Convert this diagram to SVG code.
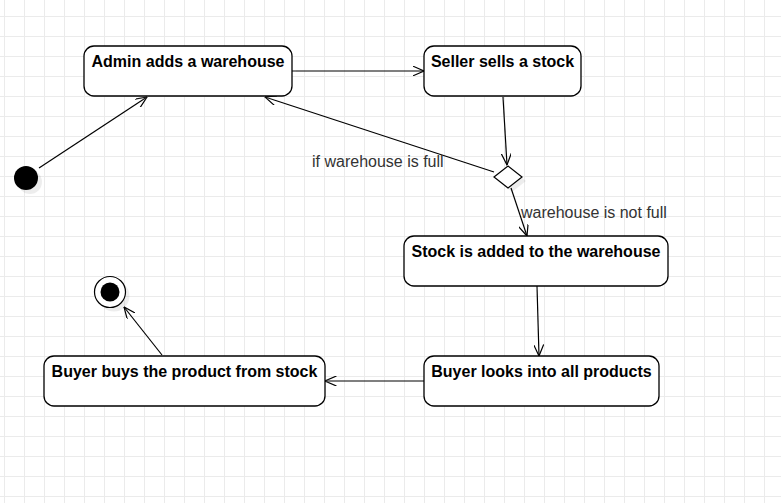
<svg xmlns="http://www.w3.org/2000/svg" width="781" height="503" viewBox="0 0 781 503">
  <style>
    .node rect { fill: #ffffff; stroke: #000000; stroke-width: 1.3; }
    .shadow { fill: #000000; opacity: 0.07; }
    .label { font-family: "Liberation Sans", Arial, sans-serif; font-size: 16px; font-weight: bold; fill: #000000; text-anchor: middle; }
    .elabel { font-family: "Liberation Sans", Arial, sans-serif; font-size: 16px; fill: #333333; }
    .edge { fill: none; stroke: #000000; stroke-width: 1.2; marker-end: url(#open); }
  </style>
  <defs>
    <pattern id="grid" x="4" y="16" width="20" height="20" patternUnits="userSpaceOnUse">
      <path d="M0.5,0 V20 M0,0.5 H20" fill="none" stroke="#ebebeb" stroke-width="1"/>
    </pattern>
    <marker id="open" viewBox="0 0 12 10" refX="11.5" refY="5" markerWidth="12" markerHeight="10" markerUnits="userSpaceOnUse" orient="auto">
      <path d="M0,0 L11.5,5 L0,10" fill="none" stroke="#000000" stroke-width="1.2"/>
    </marker>
  </defs>
  <rect width="781" height="503" fill="#ffffff"/>
  <rect width="781" height="503" fill="url(#grid)"/>

  <g id="connectors">
    <path class="edge" d="M39,168 L147,97"/>
    <path class="edge" d="M292,71 L424,71"/>
    <path class="edge" d="M503,97 L507,165"/>
    <path class="edge" d="M494,172 L265,97"/>
    <path class="edge" d="M511,188 L527,236"/>
    <path class="edge" d="M537,286 L539,356"/>
    <path class="edge" d="M424,381 L325,381"/>
    <path class="edge" d="M162,355 L124,307"/>
    <text class="elabel" x="312" y="167">if warehouse is full</text>
    <text class="elabel" x="521" y="218">warehouse is not full</text>
  </g>

  <g id="start">
    <circle cx="30" cy="182" r="12" class="shadow"/>
    <circle cx="26" cy="178" r="12" fill="#000000"/>
  </g>

  <g id="end">
    <circle cx="114" cy="296" r="15.5" class="shadow"/>
    <circle cx="110" cy="292" r="15.5" fill="#ffffff" stroke="#000000" stroke-width="1.2"/>
    <circle cx="110" cy="292" r="9.5" fill="#000000"/>
  </g>

  <g id="admin" class="node">
    <rect x="88" y="50" width="208" height="50" rx="10" class="shadow" style="stroke:none"/>
    <rect x="84" y="46" width="208" height="50" rx="10"/>
    <text class="label" x="188" y="67">Admin adds a warehouse</text>
  </g>

  <g id="seller" class="node">
    <rect x="428" y="50" width="157" height="50" rx="10" class="shadow" style="stroke:none"/>
    <rect x="424" y="46" width="157" height="50" rx="10"/>
    <text class="label" x="502.5" y="67">Seller sells a stock</text>
  </g>

  <g id="decision">
    <path d="M498,181 L512,170 L526,181 L512,192 Z" class="shadow"/>
    <path d="M494,177 L508,166 L522,177 L508,188 Z" fill="#ffffff" stroke="#000000" stroke-width="1.2"/>
  </g>

  <g id="stock" class="node">
    <rect x="408" y="240" width="264" height="50" rx="10" class="shadow" style="stroke:none"/>
    <rect x="404" y="236" width="264" height="50" rx="10"/>
    <text class="label" x="536" y="257">Stock is added to the warehouse</text>
  </g>

  <g id="looks" class="node">
    <rect x="428" y="360" width="235" height="50" rx="10" class="shadow" style="stroke:none"/>
    <rect x="424" y="356" width="235" height="50" rx="10"/>
    <text class="label" x="541.5" y="377">Buyer looks into all products</text>
  </g>

  <g id="buys" class="node">
    <rect x="48" y="360" width="281" height="50" rx="10" class="shadow" style="stroke:none"/>
    <rect x="44" y="356" width="281" height="50" rx="10"/>
    <text class="label" x="184.5" y="377">Buyer buys the product from stock</text>
  </g>
</svg>
